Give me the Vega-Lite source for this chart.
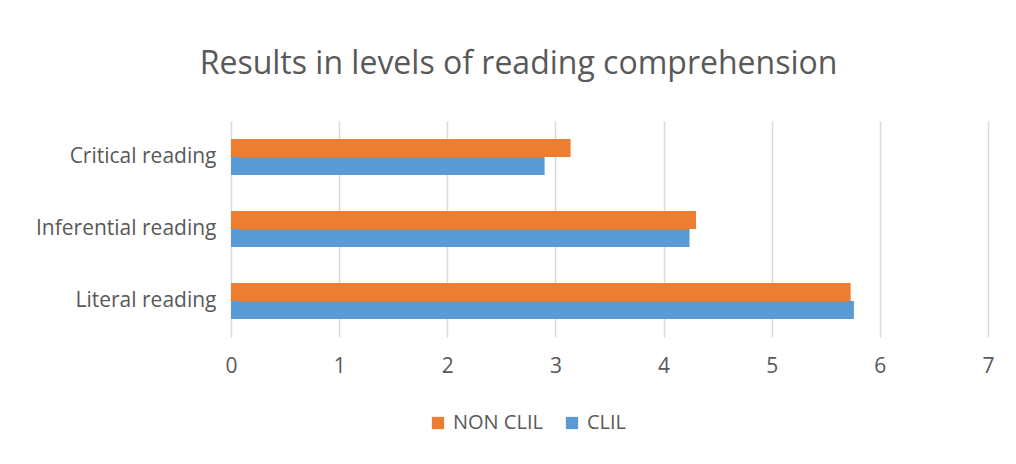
{
  "$schema": "https://vega.github.io/schema/vega-lite/v6.json",
  "autosize": {"type": "none"},
  "padding": {"left": 231, "top": 121, "right": 28, "bottom": 127},
  "width": 757,
  "height": 216,
  "background": "white",
  "title": {
    "text": "Results in levels of reading comprehension",
    "font": "Open Sans",
    "fontWeight": 400,
    "fontSize": 32,
    "color": "#595959",
    "anchor": "middle",
    "dx": -91,
    "offset": 40
  },
  "data": {
    "values": [
      {"level": "Critical reading", "group": "NON CLIL", "value": 3.14},
      {"level": "Critical reading", "group": "CLIL", "value": 2.90},
      {"level": "Inferential reading", "group": "NON CLIL", "value": 4.30},
      {"level": "Inferential reading", "group": "CLIL", "value": 4.24},
      {"level": "Literal reading", "group": "NON CLIL", "value": 5.73},
      {"level": "Literal reading", "group": "CLIL", "value": 5.76}
    ]
  },
  "mark": {"type": "bar"},
  "encoding": {
    "y": {
      "field": "level",
      "type": "nominal",
      "sort": ["Critical reading", "Inferential reading", "Literal reading"],
      "scale": {"paddingInner": 0.5, "paddingOuter": 0.25},
      "axis": {
        "title": null,
        "domain": false,
        "ticks": false,
        "labelFont": "Open Sans",
        "labelFontSize": 21,
        "labelColor": "#595959",
        "labelPadding": 15,
        "labelLimit": 300
      }
    },
    "yOffset": {
      "field": "group",
      "type": "nominal",
      "sort": ["NON CLIL", "CLIL"],
      "scale": {"paddingInner": 0, "paddingOuter": 0}
    },
    "x": {
      "field": "value",
      "type": "quantitative",
      "scale": {"domain": [0, 7], "nice": false},
      "axis": {
        "title": null,
        "values": [0, 1, 2, 3, 4, 5, 6, 7],
        "domain": false,
        "ticks": false,
        "grid": true,
        "gridColor": "#D9D9D9",
        "gridWidth": 1.5,
        "labelFlush": false,
        "labelFont": "Open Sans",
        "labelFontSize": 21,
        "labelColor": "#595959",
        "labelPadding": 18
      }
    },
    "color": {
      "field": "group",
      "type": "nominal",
      "sort": ["NON CLIL", "CLIL"],
      "scale": {"domain": ["NON CLIL", "CLIL"], "range": ["#ED7D31", "#5B9BD5"]},
      "legend": {
        "title": null,
        "orient": "none",
        "direction": "horizontal",
        "legendX": 197,
        "legendY": 292,
        "symbolType": "square",
        "symbolSize": 150,
        "symbolStrokeWidth": 0,
        "labelFont": "Open Sans",
        "labelFontSize": 20,
        "labelColor": "#595959",
        "columnPadding": 19,
        "labelOffset": 5
      }
    }
  },
  "config": {
    "view": {"stroke": null}
  }
}
